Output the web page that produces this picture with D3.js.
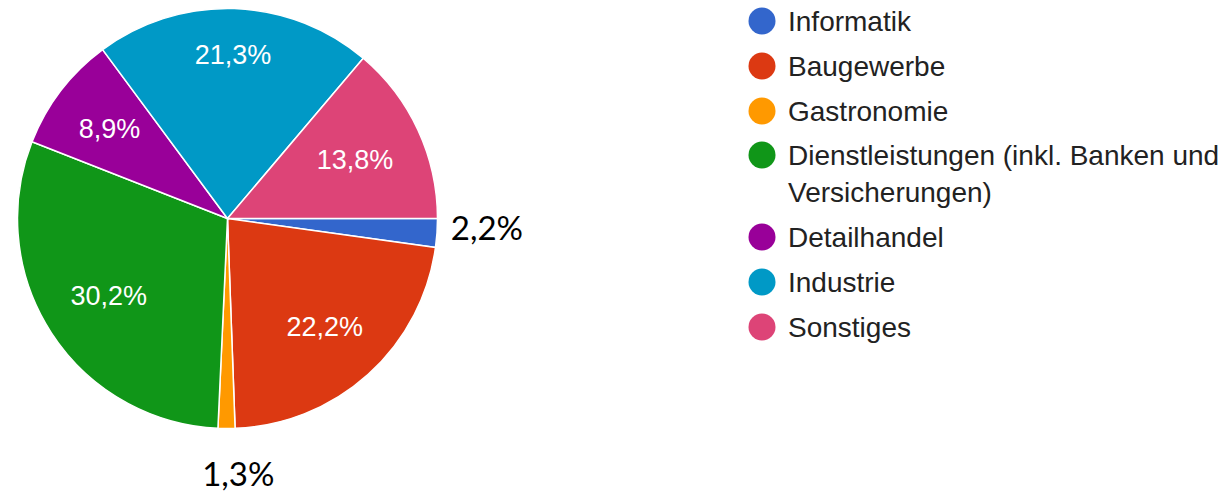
<!DOCTYPE html>
<html>
<head>
<meta charset="utf-8">
<script src="https://cdn.jsdelivr.net/npm/d3@7"></script>
<style>
  html, body { margin: 0; padding: 0; background: #fff; }
  svg { display: block; }
</style>
</head>
<body>
<svg id="chart" width="1225" height="495"></svg>
<script>
const categories = ["Informatik", "Baugewerbe", "Gastronomie", "Dienstleistungen (inkl. Banken und Versicherungen)", "Detailhandel", "Industrie", "Sonstiges"];
const values = [2.2, 22.2, 1.3, 30.2, 8.9, 21.3, 13.8];
const labels = ["2,2%", "22,2%", "1,3%", "30,2%", "8,9%", "21,3%", "13,8%"];
const colors = ["#3366cc", "#dc3912", "#ff9900", "#109618", "#990099", "#0099c6", "#dd4477"];
const legendLines = [["Informatik"], ["Baugewerbe"], ["Gastronomie"], ["Dienstleistungen (inkl. Banken und", "Versicherungen)"], ["Detailhandel"], ["Industrie"], ["Sonstiges"]];

const svg = d3.select("#chart");
const cx = 227.5, cy = 218.5, R = 210;

const pie = d3.pie().sort(null).value(d => d)
  .startAngle(Math.PI / 2).endAngle(Math.PI / 2 + 2 * Math.PI);
const arcs = pie(values);
const arc = d3.arc().innerRadius(0).outerRadius(R);
const outerArc = d3.arc().innerRadius(260).outerRadius(260);

const g = svg.append("g").attr("transform", `translate(${cx},${cy})`);
g.selectAll("path").data(arcs).join("path")
  .attr("d", arc)
  .attr("fill", (d, i) => colors[i])
  .attr("stroke", "#fff")
  .attr("stroke-width", 1.5);

// Inside labels: place so that the label box's far corner sits at a fixed distance
const inFont = 27, cornerDist = 179.5;
const inLabels = g.selectAll("text.in").data(arcs.filter(d => d.data >= 5)).join("text")
  .attr("class", "in")
  .attr("text-anchor", "middle")
  .attr("dy", "0.36em")
  .attr("fill", "#fff")
  .attr("font-family", "'Liberation Sans', Arial, sans-serif")
  .attr("font-size", inFont)
  .text(d => labels[d.index]);
inLabels.each(function(d) {
  const w = this.getComputedTextLength();
  const hw = w / 2, hh = 0.37 * inFont;
  const mid = (d.startAngle + d.endAngle) / 2;
  const ux = Math.sin(mid), uy = -Math.cos(mid);
  const a = Math.abs(ux), b = Math.abs(uy);
  const p = a * hw + b * hh;
  const r = -p + Math.sqrt(p * p - (hw * hw + hh * hh - cornerDist * cornerDist));
  d3.select(this).attr("x", r * ux).attr("y", r * uy);
});

// Outside annotations for small slices
const outerNudge = { 0: [0, -8], 2: [12, -4] };
g.selectAll("text.out").data(arcs.filter(d => d.data < 5)).join("text")
  .attr("class", "out")
  .attr("transform", d => {
    const [x, y] = outerArc.centroid(d);
    const n = outerNudge[d.index] || [0, 0];
    return `translate(${x + n[0]},${y + n[1]})`;
  })
  .attr("text-anchor", "middle")
  .attr("dy", "0.36em")
  .attr("fill", "#000")
  .attr("font-family", "Lato, 'Open Sans', sans-serif")
  .attr("font-size", 33)
  .text(d => labels[d.index]);

// Legend
const legend = svg.append("g").attr("font-family", "'Liberation Sans', Arial, sans-serif").attr("font-size", 28).attr("fill", "#222");
const rowY = [21, 66, 111, 155, 237, 282, 327];
legendLines.forEach((lines, i) => {
  const item = legend.append("g").attr("transform", `translate(762,${rowY[i]})`);
  item.append("circle").attr("r", 13.5).attr("fill", colors[i]);
  lines.forEach((t, j) => {
    item.append("text").attr("x", 26).attr("y", 10 + j * 37).text(t);
  });
});
</script>
</body>
</html>
